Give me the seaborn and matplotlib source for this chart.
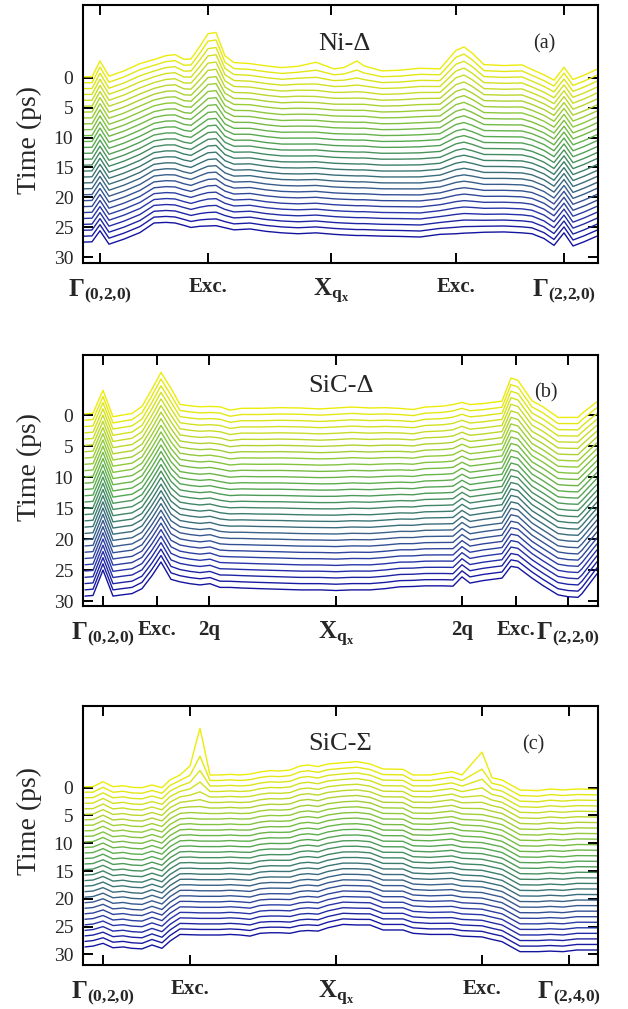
import numpy as np
import pandas as pd
import matplotlib
matplotlib.use("Agg")
import matplotlib.pyplot as plt
import seaborn as sns
from matplotlib.colors import LinearSegmentedColormap

# ------------------------------------------------------------------ data
# k = position along the k-path (arbitrary units, Gamma(0,2,0) = 0)
# top_*    : height (ps axis) of the first curve (t = 0)
# bottom_* : height (ps axis) of the last curve
# fast_*   : part of the first-curve features that dies out within a few ps
# w_*      : weight of the first-curve shape in each successive curve
# amp_*    : amplitude of the fast features in each successive curve

# ---- (a) Ni-Delta
k_a = [-16, -8, 0, 9, 24, 40, 54, 66, 75, 84, 91, 100, 108, 116, 125, 134, 150, 166,
       182, 198, 216, 234, 244, 257, 264, 282, 300, 320, 340, 356, 364, 372, 384, 404,
       422, 432, 444, 454, 464, 473, 484, 497]
top_a = [-0.17, -0.17, -2.83, -0.28, -1.17, -2.39, -3.06, -3.72, -3.89, -3.11,
         -3.17, -5.3, -7.39, -7.61, -3.67, -2.56, -2.39, -2.0, -1.72, -1.94,
         -2.61, -1.5, -1.72, -2.83, -2.0, -1.17, -1.28, -1.61, -1.5, -4.61,
         -5.17, -4.17, -2.22, -2.06, -2.17, -1.39, -0.5, 0.39, -1.78, 0.28,
         -0.44, -1.44]
bottom_a = [27.5, 27.45, 25.6, 27.85, 27.0, 25.9, 24.3, 24.2, 24.3, 24.7,
            25.05, 24.85, 24.8, 24.75, 25.1, 25.45, 25.3, 25.7, 25.95, 26.1,
            25.95, 26.2, 26.3, 26.4, 26.4, 26.5, 26.55, 26.65, 26.2, 26.1,
            26.0, 25.95, 25.85, 25.8, 25.95, 26.1, 26.9, 28.05, 25.95, 28.15,
            27.45, 26.5]
fast_a = [0, 0, 0, 0, 0, 0, 0, 0, 0, 0,
          0, 0, 0, 0, 0, 0, 0, 0, 0, 0,
          0.85, 0, 0.2, 1.3, 0.45, 0, 0, 0, 0, 0,
          0, 0, 0, 0, 0, 0, 0, 0, 0, 0,
          0, 0]
times_a = list(range(29))
w_a = [1.00, 0.94, 0.88, 0.83, 0.78, 0.73, 0.68, 0.64, 0.60, 0.56,
       0.52, 0.48, 0.45, 0.42, 0.39, 0.36, 0.33, 0.30, 0.27, 0.24,
       0.22, 0.19, 0.17, 0.14, 0.12, 0.09, 0.06, 0.03, 0.00]
amp_a = [1.0, 0.6, 0.35, 0.2, 0.1, 0.05, 0.02] + [0.0] * 22
ticks_a = [0, 108, 231, 356, 464]
labels_a = [r"$\mathbf{\Gamma_{(0{,}2{,}0)}}$", "Exc.", r"$\mathbf{X_{q_x}}$", "Exc.",
            r"$\mathbf{\Gamma_{(2{,}2{,}0)}}$"]

# ---- (b) SiC-Delta
k_b = [-18, -10, 0, 10, 19, 29, 39, 49, 58, 68, 77, 87, 97, 107, 117, 127, 139, 157,
       177, 197, 217, 233, 249, 267, 282, 297, 310, 322, 340, 350, 359, 367, 380, 399,
       408, 415, 429, 440, 455, 465, 475, 479, 494]
top_b = [-0.2, -0.3, -4.0, 0.27, 0.0, -0.27, -1.4, -4.2, -6.9, -4.3,
         -1.73, -1.5, -1.35, -1.4, -1.35, -0.8, -1.1, -1.1, -1.2, -1.15,
         -1.0, -1.15, -1.3, -1.15, -1.2, -1.08, -0.9, -1.3, -1.45, -1.7,
         -2.05, -1.7, -1.86, -2.25, -6.0, -5.6, -2.3, -1.35, 0.37, 0.37,
         0.37, -0.27, -2.15]
bottom_b = [29.2, 29.1, 25.0, 29.2, 29.0, 28.8, 28.0, 25.9, 23.7, 26.5,
            26.9, 27.2, 27.4, 27.2, 27.8, 27.8, 27.9, 28.0, 28.1, 28.2,
            28.2, 28.3, 28.2, 28.2, 28.0, 27.7, 27.65, 27.55, 27.55, 27.6,
            26.1, 27.1, 26.7, 26.3, 24.4, 24.6, 26.3, 27.5, 29.0, 29.3,
            29.4, 28.8, 25.6]
fast_b = [0.0] * 43
times_b = list(range(30))
w_b = [1.00, 0.95, 0.90, 0.86, 0.82, 0.78, 0.74, 0.70, 0.66, 0.62,
       0.59, 0.55, 0.52, 0.48, 0.45, 0.42, 0.38, 0.35, 0.32, 0.29,
       0.26, 0.23, 0.20, 0.17, 0.14, 0.11, 0.08, 0.05, 0.03, 0.00]
amp_b = [0.0] * 30
ticks_b = [0, 54, 106, 233, 359, 413, 465]
labels_b = [r"$\mathbf{\Gamma_{(0{,}2{,}0)}}$", "Exc.", "2q", r"$\mathbf{X_{q_x}}$", "2q",
            "Exc.", r"$\mathbf{\Gamma_{(2{,}2{,}0)}}$"]

# ---- (c) SiC-Sigma
k_c = [-18, -10, 0, 10, 20, 29, 39, 49, 59, 67, 77, 87, 97, 107, 117, 127, 137, 147,
       157, 167, 177, 187, 197, 205, 215, 225, 240, 254, 267, 280, 300, 310, 327, 349,
       359, 379, 389, 399, 417, 435, 447, 460, 474, 494]
top_c = [-0.18, -0.18, -1.08, -0.18, -0.36, -0.07, 0.0, -0.49, 0.0, -1.39,
         -2.29, -3.9, -10.7, -2.29, -2.29, -2.4, -2.29, -2.45, -2.83, -3.07,
         -3.0, -3.19, -3.9, -4.09, -3.8, -4.27, -4.5, -4.7, -4.27, -3.37,
         -3.3, -2.29, -2.29, -2.9, -2.29, -6.4, -1.8, -1.39, 0.41, 0.53,
         0.23, 0.4, 0.23, 0.3]
bottom_c = [28.65, 28.5, 28.0, 28.8, 28.65, 28.9, 29.0, 28.3, 28.9, 27.6,
            26.4, 26.45, 26.5, 26.5, 26.5, 26.4, 26.5, 26.7, 26.2, 26.1,
            26.1, 26.2, 25.8, 25.7, 25.8, 25.2, 24.6, 24.7, 24.7, 25.6,
            25.6, 26.2, 26.4, 26.4, 26.7, 26.85, 27.3, 27.7, 29.5, 29.5,
            29.4, 29.5, 29.2, 29.2]
fast_c = [0, 0, 0, 0, 0, 0, 0, 0, 0, 0,
          0, 1.4, 8.4, 0, 0, 0, 0, 0, 0, 0,
          0, 0, 0, 0, 0, 0, 0, 0, 0, 0,
          0, 0, 0, 0, 0, 4.3, 0, 0, 0, 0,
          0, 0, 0, 0]
times_c = list(range(30))
w_c = [1.00, 0.95, 0.90, 0.86, 0.82, 0.78, 0.74, 0.70, 0.66, 0.62,
       0.59, 0.55, 0.52, 0.48, 0.45, 0.42, 0.38, 0.35, 0.32, 0.29,
       0.26, 0.23, 0.20, 0.17, 0.14, 0.11, 0.08, 0.05, 0.03, 0.00]
amp_c = [1.0, 0.52, 0.33, 0.2, 0.11, 0.06, 0.03, 0.01] + [0.0] * 22
ticks_c = [0, 87, 233, 379, 466]
labels_c = [r"$\mathbf{\Gamma_{(0{,}2{,}0)}}$", "Exc.", r"$\mathbf{X_{q_x}}$", "Exc.",
            r"$\mathbf{\Gamma_{(2{,}4{,}0)}}$"]

titles = ["Ni-\u0394", "SiC-\u0394", "SiC-\u03a3"]
tags = ["(a)", "(b)", "(c)"]


def waterfall_frame(k, top, bottom, fast, times, w, amp):
    k = np.asarray(k, float)
    top = np.asarray(top, float)
    bottom = np.asarray(bottom, float)
    fast = np.asarray(fast, float)
    t_last = times[-1]
    s_top = -top - fast          # slow part of first-curve signal
    s_bot = t_last - bottom      # signal of last curve
    rows = []
    for t, wi, ai in zip(times, w, amp):
        s = s_bot + wi * (s_top - s_bot) + ai * fast
        for kk, yy in zip(k, t - s):
            rows.append((kk, yy, t))
    return pd.DataFrame(rows, columns=["k", "y", "t"])


# ------------------------------------------------------------------ style
sns.set_theme(style="ticks")
plt.rcParams["font.family"] = ["Liberation Serif", "DejaVu Serif"]
plt.rcParams["mathtext.fontset"] = "custom"
plt.rcParams["mathtext.rm"] = "Liberation Serif"
plt.rcParams["mathtext.bf"] = "Liberation Serif:bold"
plt.rcParams["mathtext.it"] = "Liberation Serif:italic"

cmap = LinearSegmentedColormap.from_list(
    "ygb", ["#ecec0c", "#c8dc28", "#8cc83c", "#58aa50", "#3c8068",
            "#385c8c", "#2836a8", "#1414a0"])

W, H = 628, 1009
fig = plt.figure(figsize=(W / 100, H / 100), dpi=100)

# pixel boxes (left, top, right, bottom) and y-limits
boxes = [(83, 5, 598, 263), (83, 355, 598, 606), (83, 706, 598, 965)]
ylims = [(31.0, -12.2), (30.8, -9.7), (31.9, -14.7)]
xlims = [(-17, 498), (-20, 495), (-20, 495)]
title_pos = [(0.507, 0.849), (0.501, 0.876), (0.499, 0.853)]
tag_pos = [(0.895, 0.849), (0.899, 0.849), (0.874, 0.849)]
ylab_y = [0.477, 0.554, 0.556]

panels = [
    (k_a, top_a, bottom_a, fast_a, times_a, w_a, amp_a, ticks_a, labels_a),
    (k_b, top_b, bottom_b, fast_b, times_b, w_b, amp_b, ticks_b, labels_b),
    (k_c, top_c, bottom_c, fast_c, times_c, w_c, amp_c, ticks_c, labels_c),
]

for i, (k, top, bot, fast, times, w, amp, ticks, labels) in enumerate(panels):
    l, tp, r, b = boxes[i]
    ax = fig.add_axes([l / W, 1 - b / H, (r - l) / W, (b - tp) / H])
    df = waterfall_frame(k, top, bot, fast, times, w, amp)
    sns.lineplot(data=df, x="k", y="y", hue="t", palette=cmap,
                 hue_norm=(times[0], times[-1]), estimator=None, sort=False,
                 legend=False, linewidth=1.0, ax=ax)
    ax.set_xlim(*xlims[i])
    ax.set_ylim(*ylims[i])
    ax.set_yticks([0, 5, 10, 15, 20, 25, 30])
    ax.set_yticklabels(["0", "5", "10", "15", "20", "25", "30"], fontsize=14)
    ax.set_xticks(ticks)
    ax.set_xticklabels(labels, fontsize=15, fontweight="bold")
    for lbl in ax.get_xticklabels():
        if lbl.get_text().startswith("$"):
            lbl.set_fontsize(18)
    ax.set_xlabel("")
    ax.set_ylabel("Time (ps)", fontsize=20)
    ax.yaxis.set_label_coords(-0.08, ylab_y[i])
    ax.tick_params(axis="both", direction="in", length=7.5, width=1.4,
                   color="black", top=True, right=True)
    ax.tick_params(axis="x", pad=10)
    ax.tick_params(axis="y", pad=7)
    for sp in ax.spines.values():
        sp.set_visible(True)
        sp.set_linewidth(1.5)
        sp.set_color("black")
    ax.text(*title_pos[i], titles[i], transform=ax.transAxes, fontsize=19,
            ha="center", va="center")
    ax.text(*tag_pos[i], tags[i], transform=ax.transAxes, fontsize=14.5,
            ha="center", va="center")

fig.savefig("out.png", dpi=100)
